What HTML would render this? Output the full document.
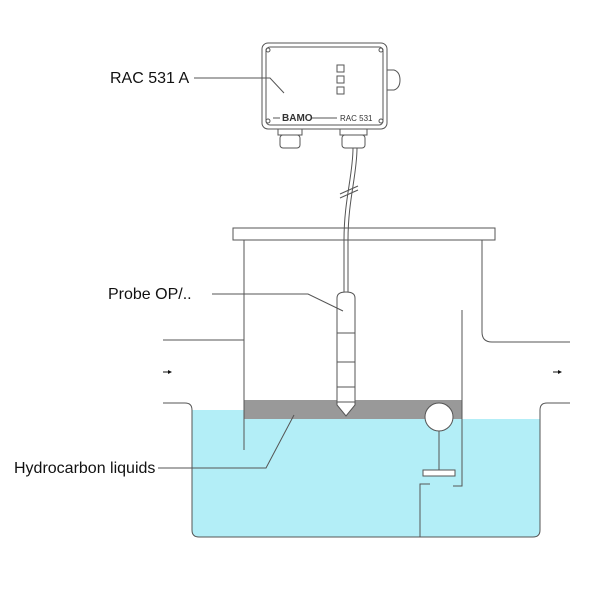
<!DOCTYPE html>
<html><head><style>body{margin:0;background:#fff}</style></head><body>
<svg width="610" height="591" viewBox="0 0 610 591" xmlns="http://www.w3.org/2000/svg" font-family="Liberation Sans, sans-serif">
<rect width="610" height="591" fill="#fff"/>
<path d="M192 410 H244 V419 H540 V530 Q540 537 533 537 H199 Q192 537 192 530 Z" fill="#b3eef7"/>
<rect x="244" y="400" width="218" height="19" fill="#999"/>
<g fill="none" stroke="#555" stroke-width="1">
<path d="M163 403 H185 Q192 403 192 410 V530 Q192 537 199 537 H533 Q540 537 540 530 V410 Q540 403 547 403 H570"/>
<path d="M163 340 H244"/>
<path d="M482 240 V332 Q482 342 492 342 H570"/>
<rect x="233" y="228" width="262" height="12" fill="#fff"/>
<path d="M244 240 V450"/>
<path d="M462 310 V486 H453"/>
<path d="M420 537 V484 H430"/>
<circle cx="439" cy="417" r="14" fill="#fff"/>
<path d="M439 431 V470"/>
<rect x="423" y="470" width="32" height="6" fill="#fff"/>
<path d="M344 240 V293 M348 240 V293"/>
<path d="M337 298 Q337 292 346 292 Q355 292 355 298 V405 L346 416 L337 405 Z" fill="#fff"/>
<path d="M337 333 H355 M337 362 H355 M337 387 H355 M337 402 H355"/>
<path d="M353 148 C353 175 344 200 344 240 M357 148 C357 175 348 200 348 240"/>
<path d="M340 194 L358 186 M340 198 L358 190"/>
<rect x="262" y="43" width="125" height="86" rx="6" fill="#fff"/>
<rect x="266" y="47" width="117" height="78" rx="4"/>
<circle cx="268" cy="50" r="2"/><circle cx="381" cy="50" r="2"/><circle cx="268" cy="121" r="2"/><circle cx="381" cy="121" r="2"/>
<rect x="337" y="65" width="7" height="7"/><rect x="337" y="76" width="7" height="7"/><rect x="337" y="87" width="7" height="7"/>
<path d="M387 70 H394 Q400 72 400 80 Q400 88 394 90 H387"/>
<path d="M273 118 H280 M312 118 H337"/>
<rect x="278" y="129" width="24" height="6"/><rect x="280" y="135" width="20" height="13" rx="3"/>
<rect x="340" y="129" width="27" height="6"/><rect x="342" y="135" width="23" height="13" rx="3"/>
<path d="M194 78 H270 L284 93"/>
<path d="M212 294 H308 L343 311"/>
<path d="M158 468 H266 L294 415"/>
</g>
<g fill="#111">
<path d="M163 372 H170" stroke="#111"/><path d="M172 372 L168 370 V374Z"/>
<path d="M553 372 H560" stroke="#111"/><path d="M562 372 L558 370 V374Z"/>
</g>
<text x="282" y="121" font-size="10" fill="#333" font-weight="bold">BAMO</text>
<text x="340" y="121" font-size="8" fill="#333">RAC 531</text>
<text x="110" y="83" font-size="16" fill="#111">RAC 531 A</text>
<text x="108" y="299" font-size="16" fill="#111">Probe OP/..</text>
<text x="14" y="473" font-size="16" fill="#111">Hydrocarbon liquids</text>
</svg>
</body></html>
